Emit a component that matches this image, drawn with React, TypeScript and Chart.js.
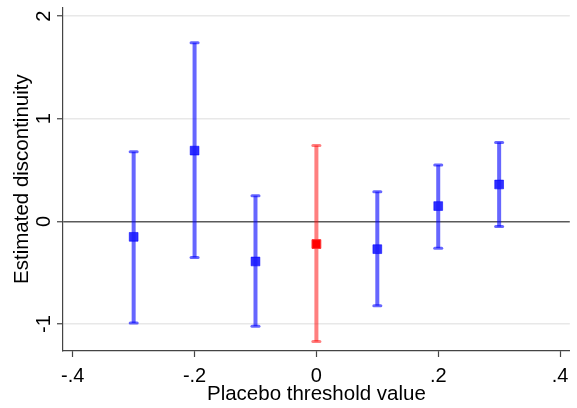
import React, { useEffect, useRef } from 'react';
import { Chart, registerables } from 'chart.js';

Chart.register(...registerables);

// ---- data ----
const thresholds = [-0.3, -0.2, -0.1, 0, 0.1, 0.2, 0.3];
const estimates = [-0.15, 0.69, -0.39, -0.22, -0.27, 0.15, 0.36];
const lowerCI = [-0.99, -0.35, -1.02, -1.17, -0.82, -0.26, -0.05];
const upperCI = [0.68, 1.74, 0.25, 0.74, 0.29, 0.55, 0.77];
const highlightThreshold = 0;
const xTickValues = [-0.4, -0.2, 0, 0.2, 0.4];
const xTickLabels = ['-.4', '-.2', '0', '.2', '.4'];
const yTickValues = [-1, 0, 1, 2];
const yTickLabels = ['-1', '0', '1', '2'];

const FONT = "Arial, 'Liberation Sans', sans-serif";
const BLUE_LINE = 'rgba(0,0,255,0.6)';
const RED_LINE = 'rgba(255,0,0,0.5)';

const errorBarPlugin = {
  id: 'errorBars',
  beforeDatasetsDraw(chart: any) {
    const { ctx, scales } = chart;
    const x = scales.x;
    const y = scales.y;
    ctx.save();
    thresholds.forEach((t, i) => {
      const px = x.getPixelForValue(t);
      const pl = y.getPixelForValue(lowerCI[i]);
      const pu = y.getPixelForValue(upperCI[i]);
      const col = t === highlightThreshold ? RED_LINE : BLUE_LINE;
      ctx.strokeStyle = col;
      ctx.lineWidth = 4;
      ctx.lineCap = 'butt';
      ctx.beginPath();
      ctx.moveTo(px, pl);
      ctx.lineTo(px, pu);
      ctx.stroke();
      ctx.lineWidth = 3;
      ctx.lineCap = 'round';
      [pl, pu].forEach((py) => {
        ctx.beginPath();
        ctx.moveTo(px - 3.5, py);
        ctx.lineTo(px + 3.5, py);
        ctx.stroke();
      });
    });
    ctx.restore();
  },
};

const yLabelPlugin = {
  id: 'yRotatedLabels',
  afterDraw(chart: any) {
    const { ctx, scales } = chart;
    const y = scales.y;
    ctx.save();
    ctx.font = `20px ${FONT}`;
    ctx.fillStyle = '#000';
    ctx.textAlign = 'center';
    ctx.textBaseline = 'alphabetic';
    yTickValues.forEach((v, i) => {
      ctx.save();
      ctx.translate(50, y.getPixelForValue(v));
      ctx.rotate(-Math.PI / 2);
      ctx.fillText(yTickLabels[i], 0, 0);
      ctx.restore();
    });
    ctx.restore();
  },
};

const bgPlugin = {
  id: 'bg',
  beforeDraw(chart: any) {
    const { ctx, width, height } = chart;
    ctx.save();
    ctx.fillStyle = '#fff';
    ctx.fillRect(0, 0, width, height);
    ctx.restore();
  },
};

export default function App() {
  const ref = useRef<HTMLCanvasElement | null>(null);
  useEffect(() => {
    if (!ref.current) return;
    const data = thresholds.map((t, i) => ({ x: t, y: estimates[i] }));
    const chart = new Chart(ref.current, {
      type: 'scatter',
      data: {
        datasets: [
          {
            data,
            pointStyle: 'rect',
            pointRadius: 6.2,
            pointHoverRadius: 6.2,
            backgroundColor: thresholds.map((t) => (t === highlightThreshold ? '#ff0000' : 'rgba(25,25,255,0.9)')),
            borderColor: thresholds.map((t) => (t === highlightThreshold ? '#ff3030' : 'rgba(0,0,255,0.55)')),
            borderWidth: 1,
          },
        ],
      },
      options: {
        responsive: false,
        animation: false,
        layout: { padding: { top: 5, right: 6, left: 0, bottom: 0 } },
        plugins: { legend: { display: false }, tooltip: { enabled: false } },
        scales: {
          x: {
            type: 'linear',
            min: -0.416,
            max: 0.416,
            afterBuildTicks: (s: any) => {
              s.ticks = xTickValues.map((v) => ({ value: v }));
            },
            afterFit: (s: any) => {
              s.height = 57;
            },
            ticks: {
              font: { size: 20, family: FONT },
              color: '#000',
              padding: 7,
              maxRotation: 0,
              callback: (v: any) => {
                const i = xTickValues.indexOf(Number(v));
                return i >= 0 ? xTickLabels[i] : '';
              },
            },
            grid: { drawOnChartArea: false, drawTicks: true, tickLength: 6, tickColor: '#444', tickWidth: 1.2 },
            border: { display: true, color: '#444', width: 1.2 },
            title: {
              display: true,
              text: 'Placebo threshold value',
              font: { size: 20.5, family: FONT },
              color: '#000',
              padding: { top: 0, bottom: 1 },
            },
          },
          y: {
            type: 'linear',
            min: -1.262,
            max: 2.087,
            afterBuildTicks: (s: any) => {
              s.ticks = yTickValues.map((v) => ({ value: v }));
            },
            afterFit: (s: any) => {
              s.width = 63;
            },
            ticks: { display: false },
            grid: {
              drawTicks: true,
              tickLength: 6,
              tickColor: '#444',
              tickWidth: 1.2,
              color: (c: any) => (c.tick && c.tick.value === 0 ? '#5a5a5a' : '#e8e8e8'),
              lineWidth: 1.5,
            },
            border: { display: true, color: '#444', width: 1.2 },
            title: {
              display: true,
              text: 'Estimated discontinuity',
              font: { size: 20.5, family: FONT },
              color: '#000',
              padding: { top: 10, bottom: 0 },
            },
          },
        },
      },
      plugins: [bgPlugin, errorBarPlugin, yLabelPlugin],
    });
    return () => chart.destroy();
  }, []);
  return (
    <div style={{ position: 'absolute', left: 0, top: 0, width: 577, height: 408, background: '#fff' }}>
      <canvas ref={ref} width={577} height={408} />
    </div>
  );
}
